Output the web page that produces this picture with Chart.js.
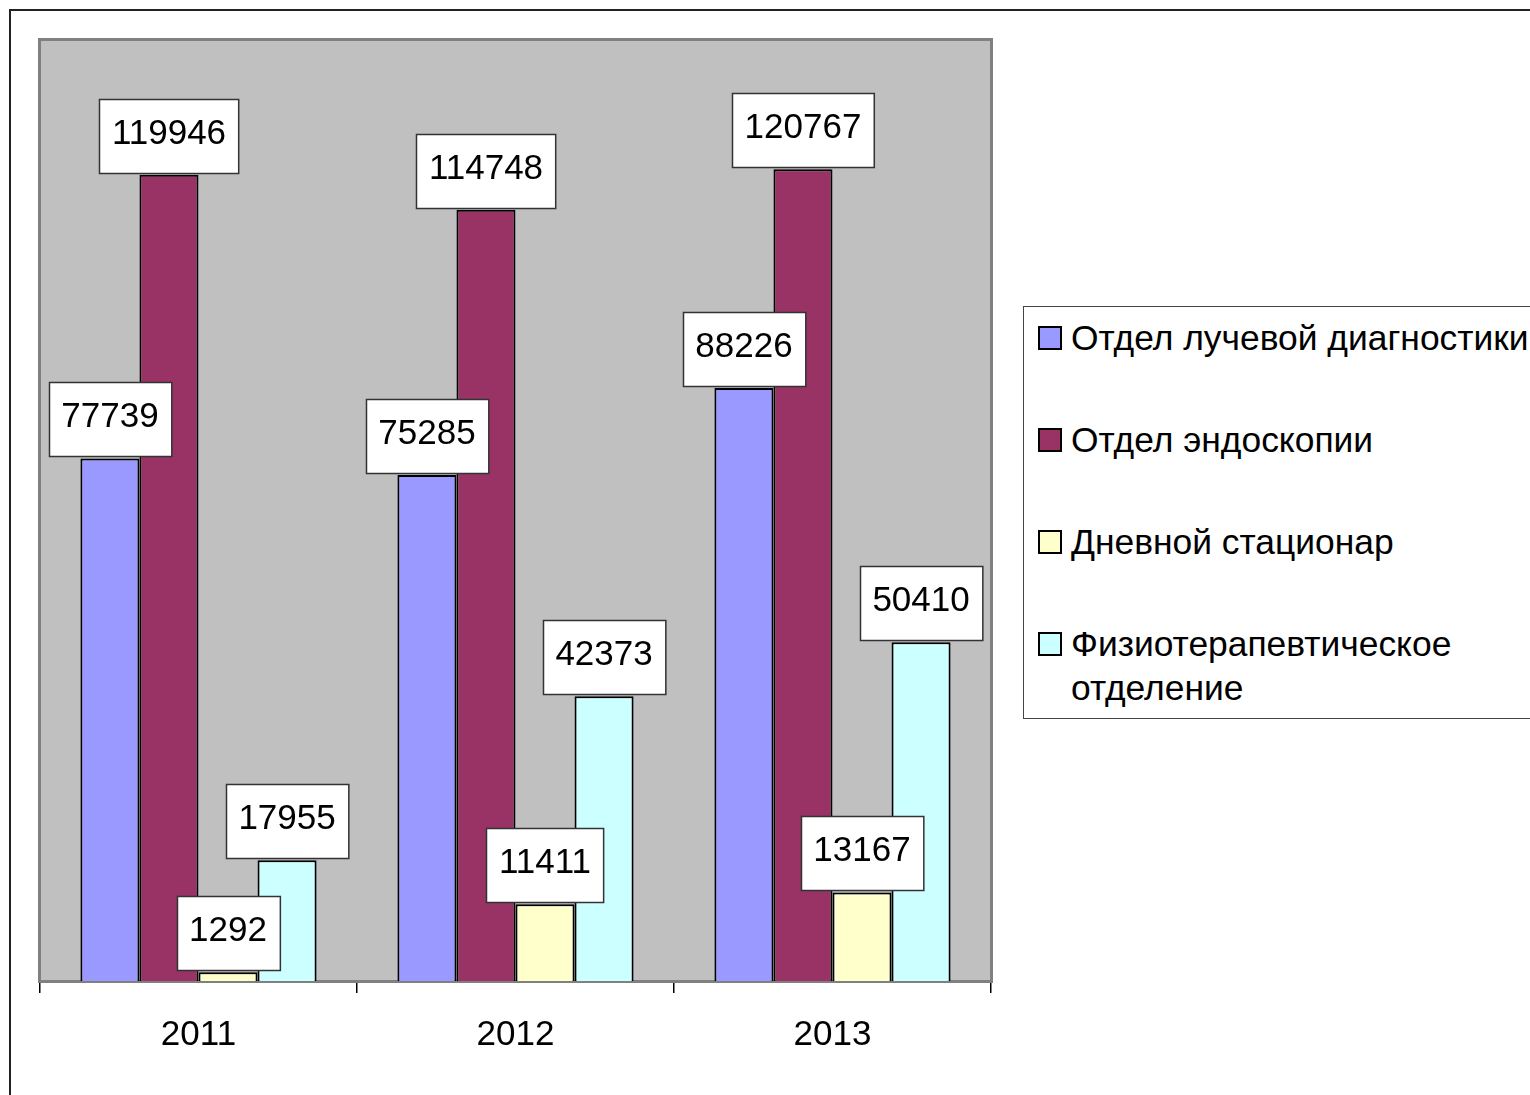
<!DOCTYPE html>
<html>
<head>
    <title>Отделения 2011-2013</title>
    <style>
        html, body { margin: 0; padding: 0; background: #fff; overflow: hidden; }
        body { width: 1530px; height: 1095px; position: relative; font-family: 'Liberation Sans', Arial, sans-serif; }
        #frame { position: absolute; left: 9px; top: 9px; width: 1700px; height: 1300px; border: 2px solid #222; }
        #chart { position: absolute; left: 0; top: 0; }
        #legend { position: absolute; left: 1023px; top: 306px; width: 700px; height: 411px; border: 1px solid #444; background: #fff; }
        .item { position: absolute; left: 14px; font-size: 35.4px; line-height: 44px; color: #000; }
        .item .box { position: absolute; left: 0; top: 10px; width: 20px; height: 20px; border: 2px solid #000; }
        .item .txt { position: absolute; left: 33px; top: 0; width: 490px; }
    </style>
</head>
<body>
    <div id="frame"></div>
    <canvas id="chart" width="1530" height="1095"></canvas>
    <div id="legend"></div>

    <script src="https://cdn.jsdelivr.net/npm/chart.js"></script>
    <script>
        const years = ['2011', '2012', '2013'];
        const seriesNames = ['Отдел лучевой диагностики', 'Отдел эндоскопии', 'Дневной стационар', 'Физиотерапевтическое отделение'];
        const radiology = [77739, 75285, 88226];
        const endoscopy = [119946, 114748, 120767];
        const dayHospital = [1292, 11411, 13167];
        const physio = [17955, 42373, 50410];
        const colors = ['#9999FF', '#993366', '#FFFFCC', '#CCFFFF'];
        const FONT = "'Liberation Sans', Arial, sans-serif";

        const values = [radiology, endoscopy, dayHospital, physio];

        // grey plot area like the old excel charts
        const plotBg = {
            id: 'plotBg',
            beforeDatasetsDraw(chart) {
                const a = chart.chartArea, ctx = chart.ctx;
                ctx.save();
                ctx.fillStyle = '#C0C0C0';
                ctx.fillRect(a.left, a.top, a.right - a.left, a.bottom - a.top);
                ctx.strokeStyle = '#808080';
                ctx.lineWidth = 3;
                ctx.strokeRect(a.left - 0.5, a.top - 0.5, a.right - a.left + 1, a.bottom - a.top + 1);
                ctx.restore();
            }
        };

        // value boxes above each bar
        const valueBoxes = {
            id: 'valueBoxes',
            afterDatasetsDraw(chart) {
                const ctx = chart.ctx;
                ctx.save();
                ctx.font = '35px ' + FONT;
                chart.data.datasets.forEach((ds, i) => {
                    chart.getDatasetMeta(i).data.forEach((bar, j) => {
                        const txt = String(ds.data[j]);
                        const w = ctx.measureText(txt).width + 25;
                        const h = 74;
                        const x = Math.round(bar.x - w / 2);
                        const y = Math.round(bar.y - 2 - h);
                        ctx.fillStyle = '#fff';
                        ctx.fillRect(x, y, w, h);
                        ctx.strokeStyle = '#333';
                        ctx.lineWidth = 1.5;
                        ctx.strokeRect(x + 0.5, y + 0.5, w, h);
                        ctx.fillStyle = '#000';
                        ctx.textAlign = 'center';
                        ctx.textBaseline = 'alphabetic';
                        ctx.fillText(txt, bar.x, y + 45);
                    });
                });
                ctx.restore();
            }
        };

        new Chart(document.getElementById('chart'), {
            type: 'bar',
            data: {
                labels: years,
                datasets: seriesNames.map((name, i) => ({
                    label: name,
                    data: values[i],
                    backgroundColor: colors[i],
                    borderColor: '#000',
                    borderWidth: 2,
                    borderSkipped: 'bottom',
                    categoryPercentage: 0.745,
                    barPercentage: 1.0
                }))
            },
            options: {
                responsive: false,
                animation: false,
                layout: { padding: { left: 40, right: 539, top: 40, bottom: 0 } },
                plugins: {
                    legend: { display: false },
                    tooltip: { enabled: false }
                },
                scales: {
                    y: {
                        display: false,
                        min: 0,
                        max: 140000
                    },
                    x: {
                        afterFit(s) { s.height = 114; },
                        border: { color: '#000', width: 2 },
                        grid: {
                            offset: true,
                            drawOnChartArea: false,
                            drawTicks: true,
                            tickLength: 12,
                            color: '#000',
                            lineWidth: 1.5
                        },
                        ticks: {
                            color: '#000',
                            padding: 21,
                            font: { family: FONT, size: 35 }
                        }
                    }
                }
            },
            plugins: [plotBg, valueBoxes]
        });

        // legend as html so the last name can wrap
        const legend = document.getElementById('legend');
        seriesNames.forEach((name, i) => {
            const item = document.createElement('div');
            item.className = 'item';
            item.style.top = (9 + i * 102) + 'px';
            item.innerHTML = '<div class="box" style="background:' + colors[i] + '"></div><div class="txt">' + name + '</div>';
            legend.appendChild(item);
        });
    </script>
</body>
</html>
